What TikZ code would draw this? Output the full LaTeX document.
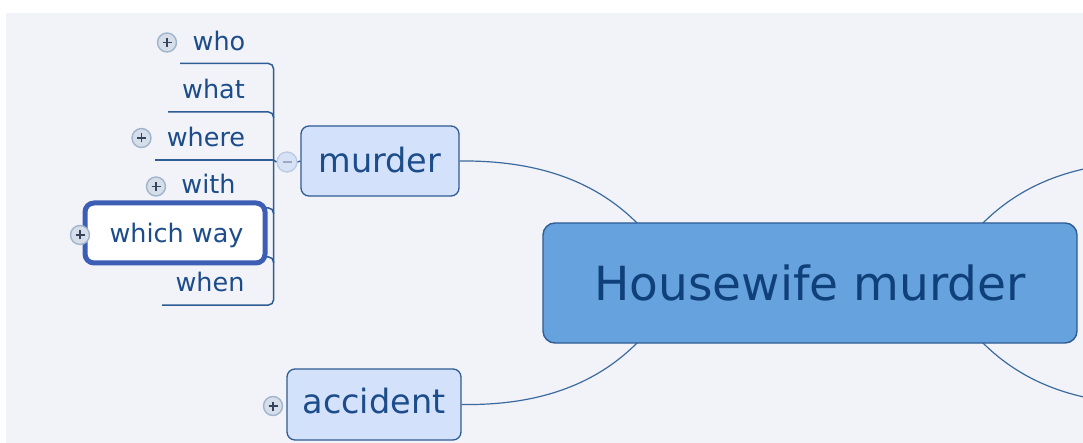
\documentclass[tikz,border=0pt]{standalone}
\usepackage{fontspec}
\setmainfont{DejaVu Sans}
\definecolor{canvas}{HTML}{F2F3F8}
\definecolor{rim}{HTML}{2E5C94}
\definecolor{hubfill}{HTML}{66A2DE}
\definecolor{branchfill}{HTML}{D4E1FB}
\definecolor{ink}{HTML}{1C4C8A}
\definecolor{hubink}{HTML}{0F4079}
\definecolor{wire}{HTML}{3A6A9E}
\definecolor{togglefill}{HTML}{D6DEEA}
\definecolor{togglerim}{HTML}{A0B4CC}
\definecolor{togglesign}{HTML}{34445C}
\definecolor{foldfill}{HTML}{D8E2F6}
\definecolor{foldrim}{HTML}{B8CAE4}
\definecolor{foldsign}{HTML}{9AAAC4}
\definecolor{focus}{HTML}{3C5FB5}
\begin{document}
\begin{tikzpicture}[x=1pt,y=-1pt,
  hubbox/.style={draw=rim, line width=1.4pt, fill=hubfill, rounded corners=12pt,
    minimum width=534pt, minimum height=120pt, inner sep=0pt, text=hubink,
    font=\fontsize{47}{56}\selectfont, text height=36pt, text depth=0pt},
  branchbox/.style={draw=rim, line width=1.3pt, fill=branchfill, rounded corners=8pt,
    inner sep=0pt, text=ink, font=\fontsize{33.5}{40}\selectfont},
  leaf/.style={anchor=base, inner sep=0pt, text=ink, font=\fontsize{25.5}{30}\selectfont},
  wirepath/.style={draw=wire, line width=1.2pt},
  bracket/.style={draw=rim, line width=1.5pt, rounded corners=5pt},
  toggle/.style={circle, draw=togglerim, fill=togglefill, line width=1.4pt,
    minimum size=19pt, inner sep=0pt,
    path picture={\draw[togglesign, line width=1.4pt]
      ([xshift=-4.5pt]path picture bounding box.center) -- ([xshift=4.5pt]path picture bounding box.center)
      ([yshift=-4.5pt]path picture bounding box.center) -- ([yshift=4.5pt]path picture bounding box.center);}},
  fold/.style={circle, draw=foldrim, fill=foldfill, line width=1.3pt,
    minimum size=20pt, inner sep=0pt,
    path picture={\draw[foldsign, line width=1.4pt]
      ([xshift=-4.5pt]path picture bounding box.center) -- ([xshift=4.5pt]path picture bounding box.center);}}
]
\useasboundingbox (0,0) rectangle (1083,443);
\clip (0,0) rectangle (1083,443);

% canvas
\fill[white] (0,0) rectangle (1083,443);
\fill[canvas] (6,13) rectangle (1083,443);

% main branches
\node[branchbox, minimum width=158pt, minimum height=70pt, text height=25.5pt, text depth=1.5pt]
  (murder) at (380,161) {murder};
\node[branchbox, minimum width=174pt, minimum height=71pt, text height=25.5pt, text depth=8.5pt]
  (accident) at (374,404.5) {accident};

% branches leaving the canvas on the right
\coordinate (rtop) at (1161,162);
\coordinate (rbot) at (1161,404);
\coordinate (hubnw) at (660,250);
\coordinate (hubsw) at (660,316);
\coordinate (hubne) at (960,250);
\coordinate (hubse) at (960,316);

\path[wirepath] (murder.east) .. controls (560,160) and (620,195) .. (hubnw);
\path[wirepath] (accident.east) .. controls (560,406) and (620,371) .. (hubsw);
\path[wirepath] (hubne) .. controls (1000,195) and (1060,160) .. (rtop);
\path[wirepath] (hubse) .. controls (1000,371) and (1060,406) .. (rbot);

% central topic
\node[hubbox] (hub) at (810,283) {Housewife murder};

% bracket joining the sub-topics of "murder"
\coordinate (spine) at (273.5,160);
\path[bracket] (180,63.5) -| (273.5,305) -- (162,305);
\path[bracket] (168,112) -| (273.5,118);
\path[bracket] (170,208) -| (273.5,214);
\path[bracket] (100,257) -| (273.5,263);
\draw[rim, line width=1.5pt] (155,160) -- (spine);

% selection frame
\node[draw=focus, line width=5pt, fill=white, rounded corners=9pt,
  minimum width=180pt, minimum height=60pt, inner sep=0pt] (sel) at (175,233) {};

% sub-topics
\node[leaf] (who) at (219,51) {who};
\node[leaf] (what) at (213.5,99) {what};
\node[leaf] (where) at (206,147) {where};
\node[leaf] (with) at (208.5,194) {with};
\node[leaf] (way) at (176.5,243) {which way};
\node[leaf] (when) at (210,291) {when};

% collapse / expand buttons
\node[fold] (foldm) at (287,162) {};
\draw[rim, line width=1.5pt] (spine) -- (foldm.west);
\draw[rim, line width=1.3pt] (foldm.east) -- (murder.west);
\node[toggle] (twho) at (167,42.5) {};
\node[toggle] (twhere) at (141.5,138) {};
\node[toggle] (twith) at (156,186.5) {};
\node[toggle] (tway) at (80,235) {};
\node[toggle] (tacc) at (273,406) {};
\end{tikzpicture}
\end{document}
